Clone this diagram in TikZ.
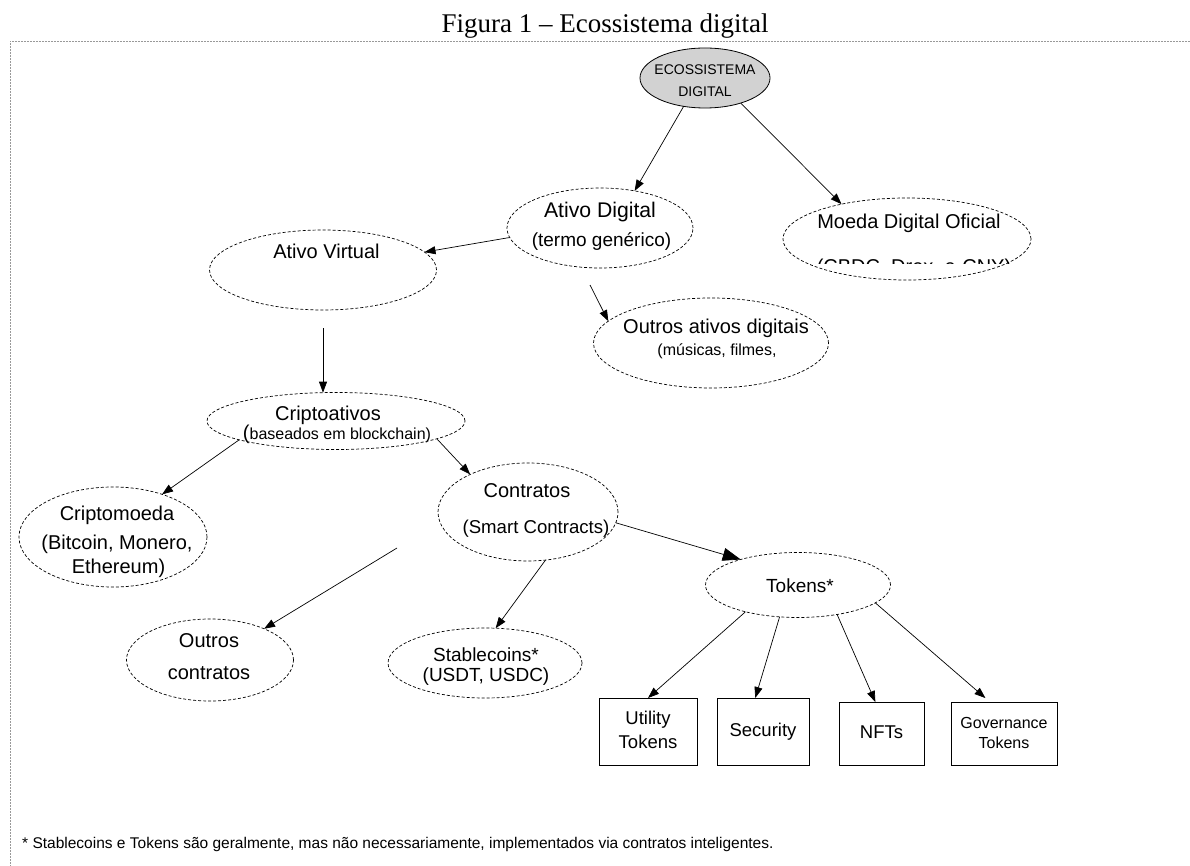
\documentclass[tikz,border=0pt]{standalone}
\usepackage{fontspec}
\setmainfont{Liberation Sans}
\newfontfamily\titlefont{Liberation Serif}
\usetikzlibrary{shapes.geometric,arrows.meta}
\begin{document}
\begin{tikzpicture}[x=1pt,y=-1pt,
  oval/.style={ellipse,draw,dash pattern=on 3pt off 2pt,line width=0.7pt,inner sep=0pt,outer sep=0pt},
  tbox/.style={rectangle,draw,line width=0.8pt,inner sep=0pt,outer sep=0pt},
  txt/.style={inner sep=0pt,anchor=base},
  big/.style={txt,font=\fontsize{20}{24}\selectfont},
  mid/.style={txt,font=\fontsize{18.5}{22}\selectfont},
  sml/.style={txt,font=\fontsize{16}{19}\selectfont},
  arr/.style={-{Triangle[length=11pt,width=8pt]},line width=0.7pt},
  bigarr/.style={-{Triangle[length=18pt,width=13pt]},line width=0.7pt},
  frame/.style={draw=gray!80,line width=0.8pt,dash pattern=on 2pt off 1pt}]
\useasboundingbox (0,0) rectangle (1190,866);
\fill[white] (0,0) rectangle (1190,866);

% title and frame
\node[txt,font=\titlefont\fontsize{27}{32}\selectfont] (title) at (605,33) {Figura 1 – Ecossistema digital};
\coordinate (fa) at (1190,41);
\coordinate (fb) at (10,41);
\coordinate (fc) at (10,866);
\draw[frame] (fa) -- (fb) -- (fc);

% shapes
\node[ellipse,draw,line width=0.8pt,fill=gray!35,inner sep=0pt,outer sep=0pt,minimum width=130pt,minimum height=60pt] (eco) at (705,78) {};
\node[oval,minimum width=186pt,minimum height=80pt] (adig) at (600,228) {};
\node[oval,minimum width=248pt,minimum height=82pt] (moeda) at (907,239) {};
\node[oval,minimum width=227pt,minimum height=80pt] (avirt) at (323,270) {};
\node[oval,minimum width=235pt,minimum height=90pt] (oativ) at (711,343) {};
\node[oval,minimum width=258pt,minimum height=57pt] (cripto) at (336,421) {};
\node[oval,minimum width=188pt,minimum height=100pt] (cmoeda) at (113,537) {};
\node[oval,minimum width=180pt,minimum height=98pt] (contr) at (528,512) {};
\node[oval,minimum width=167pt,minimum height=82pt] (ocontr) at (210,660) {};
\node[oval,minimum width=194pt,minimum height=70pt] (stable) at (485,663) {};
\node[oval,minimum width=185pt,minimum height=65pt] (tokens) at (798,585) {};
\node[tbox,minimum width=98pt,minimum height=67pt] (util) at (648,731.5) {};
\node[tbox,minimum width=92pt,minimum height=67pt] (secu) at (763,731.5) {};
\node[tbox,minimum width=85pt,minimum height=63pt] (nfts) at (881.5,733.5) {};
\node[tbox,minimum width=106pt,minimum height=63pt] (gov) at (1004,733.5) {};

% texts
\node[txt,font=\fontsize{14}{17}\selectfont] (ecoa) at (705,75) {ECOSSISTEMA};
\node[txt,font=\fontsize{14}{17}\selectfont] (ecob) at (705,97) {DIGITAL};
\node[txt,font=\fontsize{21.2}{25}\selectfont] (adiga) at (600,217.5) {Ativo Digital};
\node[txt,font=\fontsize{19}{23}\selectfont] (adigb) at (601.5,246.8) {(termo genérico)};
\node[big] (moedaa) at (909,229) {Moeda Digital Oficial};
\begin{scope}
\clip (780,200) rectangle (1040,263.8);
\node[big] (moedab) at (914,274) {(CBDC, Drex, e-CNY)};
\end{scope}
\node[big] (avirta) at (326.5,259) {Ativo Virtual};
\node[big] (oativa) at (716,334) {Outros ativos digitais};
\node[sml] (oativb) at (717,355.8) {(músicas, filmes,};
\node[big] (criptoa) at (328,420) {Criptoativos};
\node[sml] (criptob) at (337,439) {{\fontsize{20}{24}\selectfont(}baseados em blockchain)};
\node[big] (cmoedaa) at (117,520) {Criptomoeda};
\node[big] (cmoedab) at (117,549) {(Bitcoin, Monero,};
\node[big] (cmoedac) at (118.5,573) {Ethereum)};
\node[big] (contra) at (527,497) {Contratos};
\node[txt,font=\fontsize{18.6}{22}\selectfont] (contrb) at (536,533.7) {(Smart Contracts)};
\node[big] (ocontra) at (209,647) {Outros};
\node[big] (ocontrb) at (209,679) {contratos};
\node[txt,font=\fontsize{19}{23}\selectfont] (stablea) at (486,661.5) {Stablecoins*};
\node[txt,font=\fontsize{19}{23}\selectfont] (stableb) at (486,681) {(USDT, USDC)};
\node[txt,font=\fontsize{19}{23}\selectfont] (tokensa) at (800,592) {Tokens*};
\node[mid] (utila) at (648,724.5) {Utility};
\node[mid] (utilb) at (648,748.5) {Tokens};
\node[mid] (secua) at (763,736.5) {Security};
\node[mid] (nftsa) at (881.5,738.5) {NFTs};
\node[sml] (gova) at (1004,728.8) {Governance};
\node[sml] (govb) at (1004,748.8) {Tokens};
\node[txt,anchor=base west,font=\fontsize{15.5}{18}\selectfont] (foot) at (22,848) {* Stablecoins e Tokens são geralmente, mas não necessariamente, implementados via contratos inteligentes.};

% connectors
\coordinate (f1) at (590,285);
\coordinate (f2) at (323,328);
\coordinate (f3) at (397,548);
\draw[arr] (eco.-127) -- (adig.47);
\draw[arr] (eco.-35.5) -- (moeda.152.8);
\draw[arr] (adig.186.3) -- (avirt.10.7);
\draw[arr] (f1) -- (oativ.168.3);
\draw[arr] (f2) -- (f2 |- cripto.115.7);
\draw[arr] (cripto.191) -- (cmoeda.41.1);
\draw[arr] (cripto.-10) -- (contr.147);
\draw[arr] (f3) -- (ocontr.30.8);
\draw[bigarr] (contr.-7.3) -- (tokens.156.7);
\draw[arr] (contr.-70.7) -- (stable.73.1);
\draw[arr] (tokens.207) -- (util.north);
\draw[arr] (tokens.240.6) -- (secu.103.4);
\draw[arr] (tokens.-37.3) -- (nfts.101.7);
\draw[arr,shorten >=6pt] (tokens.-13.7) -- (gov.114);
\end{tikzpicture}
\end{document}
